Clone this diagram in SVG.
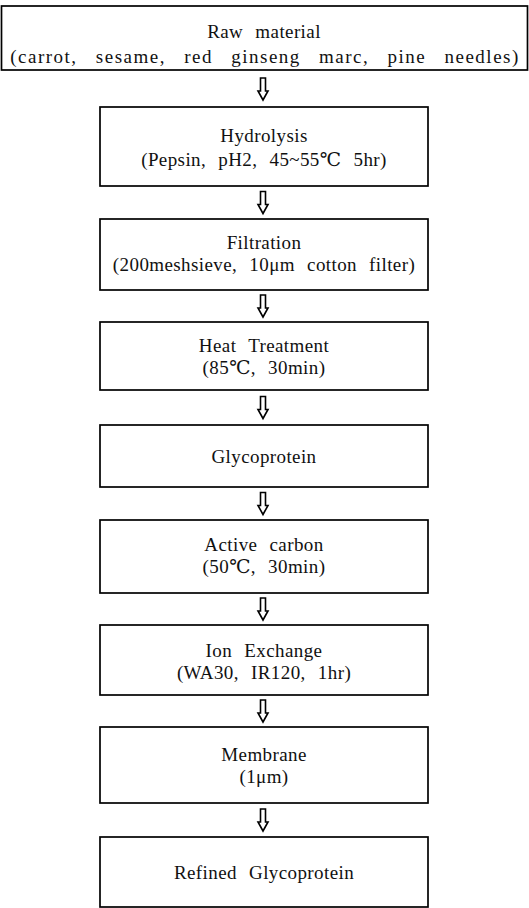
<svg xmlns="http://www.w3.org/2000/svg" width="529" height="908" viewBox="0 0 529 908">
<style>
  .box { fill: #ffffff; stroke: #000000; stroke-width: 1.7; }
  .t { font-family: "Liberation Serif", "DejaVu Serif", "Noto Sans CJK KR", serif; font-size: 19px; fill: #111111; text-anchor: middle; letter-spacing: 0.4px; word-spacing: 7px; }
  .wide { letter-spacing: 1.5px; word-spacing: 12px; }
  .arr { fill: #ffffff; stroke: #000000; stroke-width: 1.6; stroke-linejoin: miter; }
</style>
<defs>
  <path id="arrow" class="arr" d="M -2.5 0 H 2.5 V 13 H 5 L 0 22 L -5 13 H -2.5 Z"/>
</defs>
<rect width="529" height="908" fill="#ffffff"/>
<g id="connectors">
  <use href="#arrow" x="263" y="78"/>
  <use href="#arrow" x="263" y="191.5"/>
  <use href="#arrow" x="263" y="295"/>
  <use href="#arrow" x="263" y="396.5"/>
  <use href="#arrow" x="263" y="492.5"/>
  <use href="#arrow" x="263" y="598"/>
  <use href="#arrow" x="263" y="700"/>
  <use href="#arrow" x="263" y="809"/>
</g>
<g id="raw-material">
  <rect class="box" x="1.5" y="6" width="526" height="64"/>
  <text class="t" x="264" y="38">Raw material</text>
  <text class="t wide" x="265" y="63">(carrot, sesame, red ginseng marc, pine needles)</text>
</g>
<g id="hydrolysis">
  <rect class="box" x="100" y="107" width="328" height="79"/>
  <text class="t" x="264" y="142">Hydrolysis</text>
  <text class="t" x="264" y="166">(Pepsin, pH2, 45~55℃ 5hr)</text>
</g>
<g id="filtration">
  <rect class="box" x="100" y="219" width="328" height="71"/>
  <text class="t" x="264" y="249">Filtration</text>
  <text class="t" x="264" y="271">(200meshsieve, 10μm cotton filter)</text>
</g>
<g id="heat-treatment">
  <rect class="box" x="100" y="322" width="328" height="68"/>
  <text class="t" x="264" y="352">Heat Treatment</text>
  <text class="t" x="264" y="374">(85℃, 30min)</text>
</g>
<g id="glycoprotein">
  <rect class="box" x="100" y="425" width="328" height="62"/>
  <text class="t" x="264" y="463">Glycoprotein</text>
</g>
<g id="active-carbon">
  <rect class="box" x="100" y="520" width="328" height="73"/>
  <text class="t" x="264" y="551">Active carbon</text>
  <text class="t" x="264" y="573">(50℃, 30min)</text>
</g>
<g id="ion-exchange">
  <rect class="box" x="100" y="625" width="328" height="70"/>
  <text class="t" x="264" y="657">Ion Exchange</text>
  <text class="t" x="264" y="679">(WA30, IR120, 1hr)</text>
</g>
<g id="membrane">
  <rect class="box" x="100" y="727" width="328" height="76"/>
  <text class="t" x="264" y="761">Membrane</text>
  <text class="t" x="264" y="783">(1μm)</text>
</g>
<g id="refined-glycoprotein">
  <rect class="box" x="100" y="837" width="328" height="70"/>
  <text class="t" x="264" y="879">Refined Glycoprotein</text>
</g>
</svg>
